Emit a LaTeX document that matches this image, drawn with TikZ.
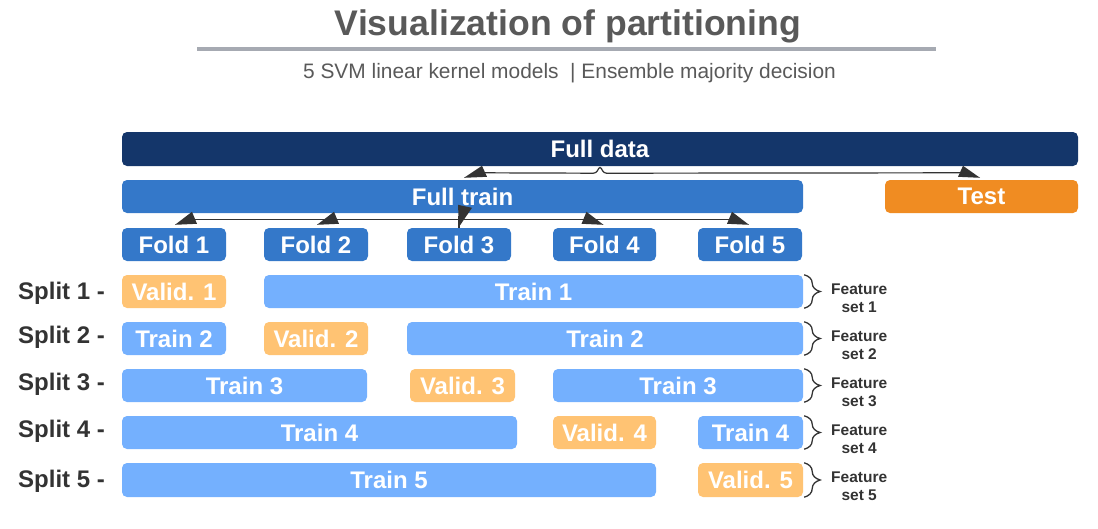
\documentclass[tikz,border=0pt]{standalone}
\usepackage{fontspec}
\setmainfont{Liberation Sans}
\usetikzlibrary{calc,decorations.pathreplacing}

\definecolor{navy}{HTML}{14366A}
\definecolor{midblue}{HTML}{3478C9}
\definecolor{testorange}{HTML}{F08C22}
\definecolor{lightblue}{HTML}{74B0FE}
\definecolor{lightorange}{HTML}{FFC373}
\definecolor{darktext}{HTML}{333333}
\definecolor{titlegray}{HTML}{595959}
\definecolor{bargray}{HTML}{A6AAB2}

% block with its left/right/top/bottom edges given in picture units
\newcommand\blk[7]{\node[#1,minimum width={(#4)-(#3)},minimum height={(#6)-(#5)}] (#2) at ({((#3)+(#4))/2},{((#5)+(#6))/2}) {#7};}

\begin{document}
\begin{tikzpicture}[x=1pt,y=-1pt,
  box/.style={rectangle,rounded corners=5pt,inner sep=0pt,text=white,
    font=\fontsize{24}{28}\selectfont\bfseries},
  databox/.style={box,fill=navy},
  fullbox/.style={box,fill=midblue},
  foldbox/.style={box,fill=midblue},
  testbox/.style={box,fill=testorange},
  trainbox/.style={box,fill=lightblue},
  validbox/.style={box,fill=lightorange},
  splitlabel/.style={anchor=base west,inner sep=0pt,text=darktext,
    font=\fontsize{24}{28}\selectfont\bfseries},
  featlabel/.style={align=center,inner sep=0pt,text=darktext,
    font=\fontsize{15.5}{18}\selectfont\bfseries},
  link/.style={draw=darktext,line width=1.2pt},
  tipfill/.style={fill=darktext},
  featbrace/.style={draw=darktext,line width=1.3pt,decorate,
    decoration={brace,amplitude=16pt,aspect=0.5}}
]
\useasboundingbox (0,0) rectangle (1098,528);

% heading
\node[anchor=base,inner sep=0pt,text=titlegray,font=\fontsize{35.6}{40}\selectfont\bfseries]
  (title) at (568,35) {Visualization of partitioning};
\fill[bargray] (197,47) rectangle (936,51);
\node[anchor=base,inner sep=0pt,text=titlegray,font=\fontsize{20.9}{24}\selectfont]
  (subtitle) at (569.5,78) {5 SVM linear kernel models~ | Ensemble majority decision};

% data hierarchy
\blk{databox}{full}{122}{1078}{132}{166}{Full data}
\blk{fullbox}{ftrain}{122}{803}{180}{213}{Full train}
\blk{testbox}{test}{885}{1078}{180}{213}{Test}

\blk{foldbox}{f1}{122}{226}{228}{261}{Fold 1}
\blk{foldbox}{f2}{264}{368}{228}{261}{Fold 2}
\blk{foldbox}{f3}{407}{511}{228}{261}{Fold 3}
\blk{foldbox}{f4}{553}{656}{228}{261}{Fold 4}
\blk{foldbox}{f5}{698}{802}{228}{261}{Fold 5}

% split rows
\blk{validbox}{v1}{122}{226}{275}{308}{Valid. 1}
\blk{trainbox}{t1}{264}{803}{275}{308}{Train 1}

\blk{trainbox}{t2a}{122}{226}{322}{355}{Train 2}
\blk{validbox}{v2}{264}{368}{322}{355}{Valid. 2}
\blk{trainbox}{t2b}{407}{803}{322}{355}{Train 2}

\blk{trainbox}{t3a}{122}{367}{369}{402}{Train 3}
\blk{validbox}{v3}{410}{515}{369}{402}{Valid. 3}
\blk{trainbox}{t3b}{553}{803}{369}{402}{Train 3}

\blk{trainbox}{t4a}{122}{517}{416}{449}{Train 4}
\blk{validbox}{v4}{553}{656}{416}{449}{Valid. 4}
\blk{trainbox}{t4b}{698}{803}{416}{449}{Train 4}

\blk{trainbox}{t5}{122}{656}{463}{497}{Train 5}
\blk{validbox}{v5}{698}{803}{463}{497}{Valid. 5}

% row labels
\node[splitlabel] (s1) at (18,299) {Split 1 -};
\node[splitlabel] (s2) at (18,343.5) {Split 2 -};
\node[splitlabel] (s3) at (18,390) {Split 3 -};
\node[splitlabel] (s4) at (18,437) {Split 4 -};
\node[splitlabel] (s5) at (18,487) {Split 5 -};

% feature set braces
\foreach \b/\n in {t1/1,t2b/2,t3b/3,t4b/4,v5/5}{
  \draw[featbrace] ($(\b.north east)+(1,0)$) -- ($(\b.south east)+(1,0)$);
  \node[featlabel] (fs\n) at ($(\b.east)+(56,6.5)$) {Feature\\set \n};
}

% full data -> full train / test
\draw[link,rounded corners=2.5pt] ($(ftrain.north)+(20,-7)$) -- ($(full.south)+(-4,7)$)
  -- (full.south) -- ($(full.south)+(4,7)$) -- ($(test.north)+(-18,-7)$);
\fill[tipfill] ($(ftrain.north)+(1.5,-2)$) -- ($(ftrain.north)+(19.5,-14)$) -- ($(ftrain.north)+(24.5,-3)$) -- cycle;
\fill[tipfill] ($(test.north)+(-23.5,-3)$) -- ($(test.north)+(-18.5,-14)$) -- ($(test.north)+(-1.5,-2)$) -- cycle;

% full train -> folds
\draw[link] ($(f1.north)+(12,-8)$) -- ($(f5.north)+(-12,-8)$);
\draw[link] (f3.north) -- ($(f3.north)+(0,-12)$);
\foreach \f in {f1,f2}{
  \fill[tipfill] ($(\f.north)+(1,-3)$) -- ($(\f.north)+(18,-16)$) -- ($(\f.north)+(23,-4)$) -- cycle;
}
\foreach \f in {f4,f5}{
  \fill[tipfill] ($(\f.north)+(-23,-4)$) -- ($(\f.north)+(-18,-16)$) -- ($(\f.north)+(-1,-3)$) -- cycle;
}
\fill[tipfill] ($(f3.north)+(-1,-23)$) -- ($(f3.north)+(13,-20)$) -- ($(f3.north)+(0,-1)$) -- cycle;

\end{tikzpicture}
\end{document}
